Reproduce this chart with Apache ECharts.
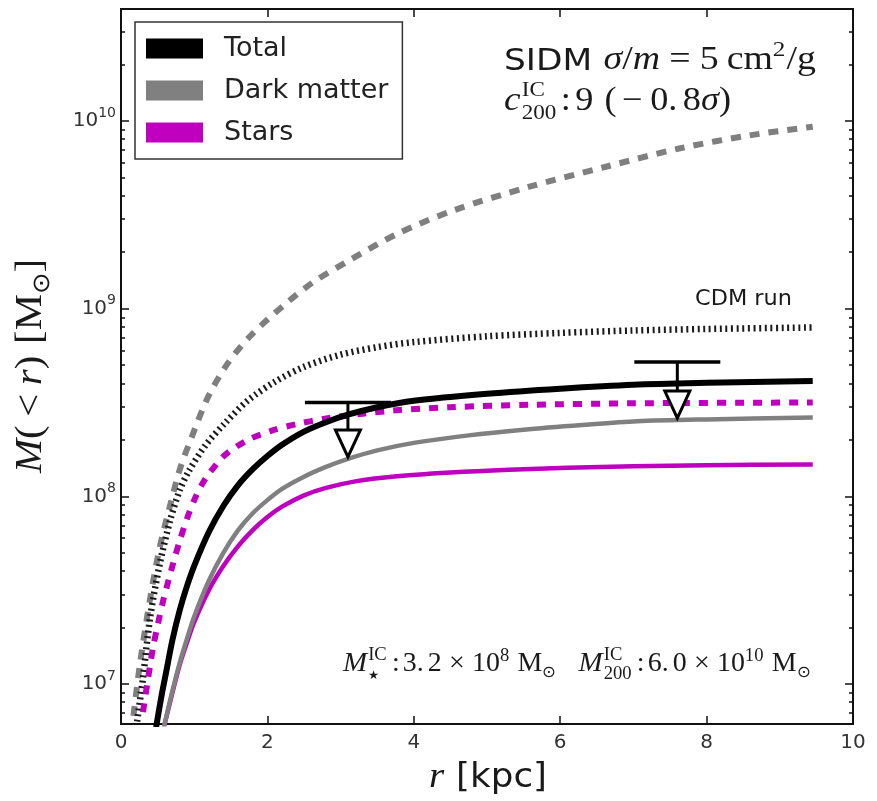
<!DOCTYPE html>
<html><head><meta charset="utf-8">
<script src="https://cdn.jsdelivr.net/npm/echarts@6/dist/echarts.min.js"></script>
<style>html,body{margin:0;padding:0;background:#fff}#c{width:877px;height:801px}</style>
</head><body><div id="c"></div>
<script>
// ---- data: radius r [kpc] and log10 of enclosed mass M(<r) [M_sun] ----
const totalR    = [0.48,0.55,0.62,0.7,0.8,0.9,1.0,1.2,1.4,1.6,1.8,2.0,2.2,2.5,2.8,3.1,3.5,4.0,5.0,6.0,7.0,8.0,9.45];
const totalLogM = [6.77,6.93,7.07,7.23,7.39,7.52,7.63,7.81,7.95,8.06,8.145,8.215,8.275,8.345,8.395,8.435,8.475,8.51,8.547,8.574,8.595,8.605,8.615];

const dmR    = [0.58,0.7,0.8,0.9,1.0,1.2,1.4,1.6,1.8,2.0,2.2,2.5,2.8,3.1,3.5,4.0,4.75,5.5,6.3,7.05,8.0,9.45];
const dmLogM = [6.76,6.96,7.11,7.24,7.36,7.55,7.70,7.82,7.91,7.98,8.04,8.105,8.157,8.20,8.245,8.285,8.325,8.355,8.38,8.40,8.41,8.42];

const starsR    = [0.58,0.7,0.8,0.9,1.0,1.2,1.4,1.6,1.8,2.0,2.2,2.5,2.8,3.2,3.7,4.5,5.3,6.1,7.0,8.0,9.45];
const starsLogM = [6.76,6.95,7.10,7.22,7.33,7.50,7.63,7.735,7.82,7.89,7.945,8.005,8.045,8.08,8.105,8.127,8.142,8.152,8.16,8.166,8.17];

const starsIcR    = [0.3,0.37,0.44,0.51,0.58,0.71,0.8,0.9,1.0,1.1,1.2,1.42,1.73,2.06,2.4,2.8,3.3,3.8,4.5,5.6,7.0,9.45];
const starsIcLogM = [6.85,7.03,7.20,7.33,7.45,7.64,7.76,7.88,7.98,8.06,8.12,8.22,8.30,8.35,8.385,8.415,8.44,8.46,8.475,8.488,8.496,8.50];

const dmIcR    = [0.17,0.26,0.4,0.53,0.67,0.8,0.97,1.19,1.46,1.78,2.23,2.62,3.13,3.78,4.55,5.58,6.61,7.64,8.61,9.45];
const dmIcLogM = [6.83,7.11,7.46,7.73,7.95,8.14,8.32,8.53,8.71,8.86,9.02,9.14,9.26,9.40,9.525,9.65,9.755,9.855,9.925,9.97];

const cdmR    = [0.22,0.3,0.4,0.53,0.67,0.8,0.92,1.15,1.42,1.73,2.1,2.5,3.0,3.5,4.0,5.0,6.0,7.0,8.0,9.45];
const cdmLogM = [6.80,7.03,7.36,7.64,7.87,8.03,8.13,8.27,8.39,8.51,8.61,8.69,8.755,8.795,8.822,8.853,8.871,8.884,8.892,8.90];

// upper limits: radius, limit value, arrow tip
const limR    = [3.1, 7.6];
const limLogM = [8.50, 8.716];
const limTip  = [8.21, 8.417];

const xTicks = [0,2,4,6,8,10];
const yMajor = [7,8,9,10];
const Y_MIN = 6.787, Y_MAX = 10.597;

// ---- helpers ----
const zip = (a,b) => a.map((v,i)=>[v,b[i]]);
const yMinor = [];
for (let n=6;n<=10;n++) for (let k=2;k<=9;k++){const v=n+Math.log10(k); if(v>Y_MIN&&v<Y_MAX) yMinor.push(v);}

const cvs = document.createElement('canvas').getContext('2d');
function tw(t,font){cvs.font=font;return cvs.measureText(t).width;}
const SERIF='"Liberation Serif"', SANS='"DejaVu Sans"';
function row(segs, color){
  let x=0, hold=0; const els=[];
  for(const g of segs){
    if(g.gap){x+=g.gap; continue;}
    const font=(g.i?'italic ':'')+g.s+'px '+(g.f==='sans'?SANS:SERIF);
    const w=tw(g.t,font);
    els.push({type:'text', x:x, y:(g.dy||0)-0.34*g.s, silent:true,
      style:{text:g.t, font:font, fill:color||'#1a1a1a', textAlign:'left', textVerticalAlign:'middle', verticalAlign:'middle'}});
    if(g.hold){hold=Math.max(hold,w);} else {x+=Math.max(w,hold); hold=0;}
  }
  return {els, width:x};
}
// place a row starting at x (or centred), optionally stretched to a target width
function placeRow(segs, x, base, opt){
  opt=opt||{};
  const r=row(segs, opt.color);
  const sx = opt.width ? opt.width/r.width : 1;
  const w = r.width*sx;
  const gx = opt.center ? x - w/2 : x;
  return {type:'group', x:gx, y:base, scaleX:sx, children:r.els};
}
const G=(n)=>({gap:n});

const line1=[{t:'SIDM',f:'sans',s:30},G(10),{t:'σ',i:1,s:33},{t:'/',s:33},{t:'m',i:1,s:33},G(8),{t:'=',s:33},G(8),{t:'5',s:33},G(7),{t:'cm',s:33},{t:'2',s:22,dy:-14},G(1),{t:'/g',s:33}];
const line2=[{t:'c',i:1,s:34},G(1),{t:'IC',s:21,dy:-15,hold:1},{t:'200',s:21,dy:8},G(4),{t:':',s:33},G(4),{t:'9',s:33},G(10),{t:'(',s:33},G(5),{t:'−',s:33},G(7),{t:'0.',s:33},G(5),{t:'8',s:33},{t:'σ',i:1,s:33},{t:')',s:33}];
const bottom=[{t:'M',i:1,s:28},G(1),{t:'IC',s:18,dy:-12,hold:1},{t:'★',s:12,dy:7},G(5),{t:':',s:27},G(3),{t:'3.',s:27},G(4),{t:'2',s:27},G(7),{t:'×',s:27},G(7),{t:'10',s:27},{t:'8',s:18,dy:-11},G(8),{t:'M',s:27},{t:'⊙',s:16,dy:5},
  G(22),{t:'M',i:1,s:28},G(1),{t:'IC',s:18,dy:-12,hold:1},{t:'200',s:18,dy:7},G(5),{t:':',s:27},G(3),{t:'6.',s:27},G(4),{t:'0',s:27},G(7),{t:'×',s:27},G(7),{t:'10',s:27},{t:'10',s:18,dy:-11},G(8),{t:'M',s:27},{t:'⊙',s:16,dy:5}];
const ylab=[{t:'M',i:1,s:38},{t:'(',s:38},G(8),{t:'<',s:38},G(8),{t:'r',i:1,s:38},{t:')',s:38},G(11),{t:'[',s:38},{t:'M',s:38},{t:'⊙',s:24,dy:7},{t:']',s:38}];
const xlab=[{t:'r',i:1,s:36},G(11),{t:'[kpc]',f:'sans',s:33}];

const yl=row(ylab);
const ySx = 214/yl.width;
const graphics=[
  placeRow(line1,504,72,{width:312}),
  placeRow(line2,504,113,{width:227}),
  placeRow(bottom,343,673,{width:467}),
  placeRow([{t:'CDM run',f:'sans',s:22}],695,307,{width:97}),
  placeRow(xlab,488,790,{center:true,width:118}),
  {type:'group', x:44, y:366, rotation:Math.PI/2, children:[{type:'group', x:-214/2, y:0, scaleX:ySx, children:yl.els}]}
];

const axisCol='#111';
const chart=echarts.init(document.getElementById('c'),null,{renderer:'canvas'});
const baseY = (pos, vals, len, labels) => ({
  type:'value', min:Y_MIN, max:Y_MAX, position:pos,
  axisLine:{show:true, onZero:false, lineStyle:{color:axisCol,width:2}},
  axisTick:{show:true, inside:true, length:len, customValues:vals, lineStyle:{color:axisCol,width:1.5}},
  axisLabel: labels ? {show:true, customValues:vals, margin:5, color:'#333',
      formatter:v=>'{b|10}{s|'+Math.round(v)+'}',
      rich:{b:{fontSize:20,fontFamily:'DejaVu Sans',color:'#333',lineHeight:30},
            s:{fontSize:14,fontFamily:'DejaVu Sans',color:'#333',lineHeight:14,verticalAlign:'top'}}} : {show:false},
  splitLine:{show:false}
});
const baseX = (pos, labels) => ({
  type:'value', min:0, max:10, interval:2, position:pos,
  axisLine:{show:true, onZero:false, lineStyle:{color:axisCol,width:2}},
  axisTick:{show:true, inside:true, length:8, customValues:xTicks, lineStyle:{color:axisCol,width:1.5}},
  axisLabel: labels ? {show:true, customValues:xTicks, margin:9, fontSize:20, fontFamily:'DejaVu Sans', color:'#333'} : {show:false},
  splitLine:{show:false}
});

const lineS=(name,r,m,color,width,type,z)=>({
  type:'line', name, data:zip(r,m), showSymbol:false, symbol:'none', smooth:0.3,
  lineStyle:{color, width, type, cap:'butt', join:'round'}, itemStyle:{color}, z, silent:true, animation:false
});

chart.setOption({
  animation:false,
  backgroundColor:'#fff',
  grid:{left:121,right:24,top:9,bottom:77},
  xAxis:[baseX('bottom',true), baseX('top',false)],
  yAxis:[baseY('left',yMajor,8,true), baseY('left',yMinor,4,false), baseY('right',yMajor,8,false), baseY('right',yMinor,4,false)],
  legend:{
    data:['Total','Dark matter','Stars'], orient:'vertical', left:135, top:22,
    icon:'rect', itemWidth:57, itemHeight:20, itemGap:15,
    padding:[13,14,13,11], backgroundColor:'#fff', borderColor:'#333', borderWidth:1.5,
    itemStyle:{borderWidth:0},
    textStyle:{fontSize:27, fontFamily:'DejaVu Sans', color:'#222', padding:[0,0,0,16]},
    selectedMode:false
  },
  series:[
    lineS('DM CDM IC',dmIcR,dmIcLogM,'#7f7f7f',6,[10,9],2),
    lineS('CDM run',cdmR,cdmLogM,'#1a1a1a',6.5,[2,3.6],2),
    lineS('Stars IC',starsIcR,starsIcLogM,'#bf00bf',6,[9,9],2),
    lineS('Stars',starsR,starsLogM,'#bf00bf',4.5,'solid',3),
    lineS('Dark matter',dmR,dmLogM,'#808080',4.5,'solid',3),
    lineS('Total',totalR,totalLogM,'#000000',6,'solid',3),
    {type:'custom', name:'limits', z:5, silent:true,
     data:limR.map((r,i)=>[r,limLogM[i],limTip[i]]),
     renderItem:(params,api)=>{
       const p0=api.coord([api.value(0),api.value(1)]);
       const p1=api.coord([api.value(0),api.value(2)]);
       const hw=43, th=27, half=12.5;
       return {type:'group',children:[
         {type:'line',shape:{x1:p0[0]-hw,y1:p0[1],x2:p0[0]+hw,y2:p0[1]},style:{stroke:'#000',lineWidth:3.5}},
         {type:'line',shape:{x1:p0[0],y1:p0[1],x2:p0[0],y2:p1[1]-th},style:{stroke:'#000',lineWidth:3}},
         {type:'polygon',shape:{points:[[p0[0]-half,p1[1]-th],[p0[0]+half,p1[1]-th],[p0[0],p1[1]]]},style:{fill:'#fff',stroke:'#000',lineWidth:3,lineJoin:'miter'}}
       ]};
     }}
  ],
  graphic:graphics
});
</script></body></html>
